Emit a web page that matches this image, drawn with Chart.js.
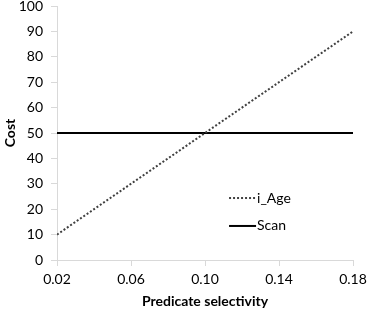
<!DOCTYPE html>
<html>
<head>
<meta charset="utf-8">
<script src="https://cdn.jsdelivr.net/npm/chart.js@4/dist/chart.umd.min.js"></script>
<style>
  html, body { margin: 0; padding: 0; background: #fff; }
  #wrap { width: 367px; height: 314px; position: relative; }
</style>
</head>
<body>
<div id="wrap"><canvas id="chart"></canvas></div>
<script>
'use strict';

// data
var selectivity = [0.02, 0.18];
var ageCost = [10, 90];
var scanCost = [50, 50];
var seriesNames = ['i_Age', 'Scan'];
var xTicks = [0.02, 0.06, 0.10, 0.14, 0.18];

var FONT = 'Lato, "Open Sans", sans-serif';
var AXIS = '#d9d9d9';

function pts(xs, ys) {
    return xs.map(function (x, i) { return { x: x, y: ys[i] }; });
}

// legend drawn inside the plot, like the original
var insideLegend = {
    id: 'insideLegend',
    afterDraw: function (chart) {
        var ctx = chart.ctx;
        var xs = chart.scales.x, ys = chart.scales.y;
        var x0 = xs.getPixelForValue(0.113), x1 = xs.getPixelForValue(0.1276);
        var rows = [ys.getPixelForValue(24.4), ys.getPixelForValue(13.4)];
        ctx.save();
        chart.data.datasets.forEach(function (ds, i) {
            ctx.beginPath();
            ctx.strokeStyle = ds.borderColor;
            ctx.lineWidth = ds.borderWidth;
            ctx.setLineDash(ds.borderDash || []);
            ctx.moveTo(x0, rows[i]);
            ctx.lineTo(x1, rows[i]);
            ctx.stroke();
            ctx.setLineDash([]);
            ctx.fillStyle = '#000';
            ctx.font = '14px ' + FONT;
            ctx.textBaseline = 'middle';
            ctx.fillText(ds.label, x1 + 1, rows[i]);
        });
        ctx.restore();
    }
};

new Chart(document.getElementById('chart'), {
    type: 'line',
    data: {
        datasets: [
            {
                label: seriesNames[0],
                data: pts(selectivity, ageCost),
                borderColor: '#404040',
                borderWidth: 2,
                borderDash: [2, 2],
                pointRadius: 0,
                fill: false
            },
            {
                label: seriesNames[1],
                data: pts(selectivity, scanCost),
                borderColor: '#000000',
                borderWidth: 2,
                pointRadius: 0,
                fill: false
            }
        ]
    },
    options: {
        responsive: true,
        maintainAspectRatio: false,
        animation: false,
        layout: { padding: { left: 0, right: 14, top: 6, bottom: 0 } },
        plugins: {
            legend: { display: false },
            tooltip: { enabled: false }
        },
        scales: {
            x: {
                type: 'linear',
                min: 0.02,
                max: 0.18,
                afterBuildTicks: function (axis) {
                    axis.ticks = xTicks.map(function (v) { return { value: v }; });
                },
                ticks: {
                    color: '#000',
                    font: { family: FONT, size: 14 },
                    padding: 5,
                    maxRotation: 0,
                    callback: function (v) { return v.toFixed(2); }
                },
                grid: { drawOnChartArea: false, tickLength: 6, color: AXIS },
                border: { color: AXIS, width: 1 },
                title: {
                    display: true,
                    text: 'Predicate selectivity',
                    color: '#000',
                    font: { family: FONT, size: 14, weight: 'bold' },
                    padding: { top: 8, bottom: 4 }
                },
                afterFit: function (axis) {
                    axis.height = 54;
                    axis.paddingLeft = 0;
                    axis.paddingRight = 0;
                }
            },
            y: {
                min: 0,
                max: 100,
                ticks: {
                    stepSize: 10,
                    color: '#000',
                    font: { family: FONT, size: 14 },
                    padding: 8
                },
                grid: { drawOnChartArea: false, tickLength: 6, color: AXIS },
                border: { color: AXIS, width: 1 },
                title: {
                    display: true,
                    text: 'Cost',
                    color: '#000',
                    font: { family: FONT, size: 14, weight: 'bold' },
                    padding: { top: 2, bottom: 0 }
                },
                afterFit: function (axis) {
                    axis.width = 57;
                    axis.paddingTop = 0;
                    axis.paddingBottom = 0;
                }
            }
        }
    },
    plugins: [insideLegend]
});
</script>
</body>
</html>
